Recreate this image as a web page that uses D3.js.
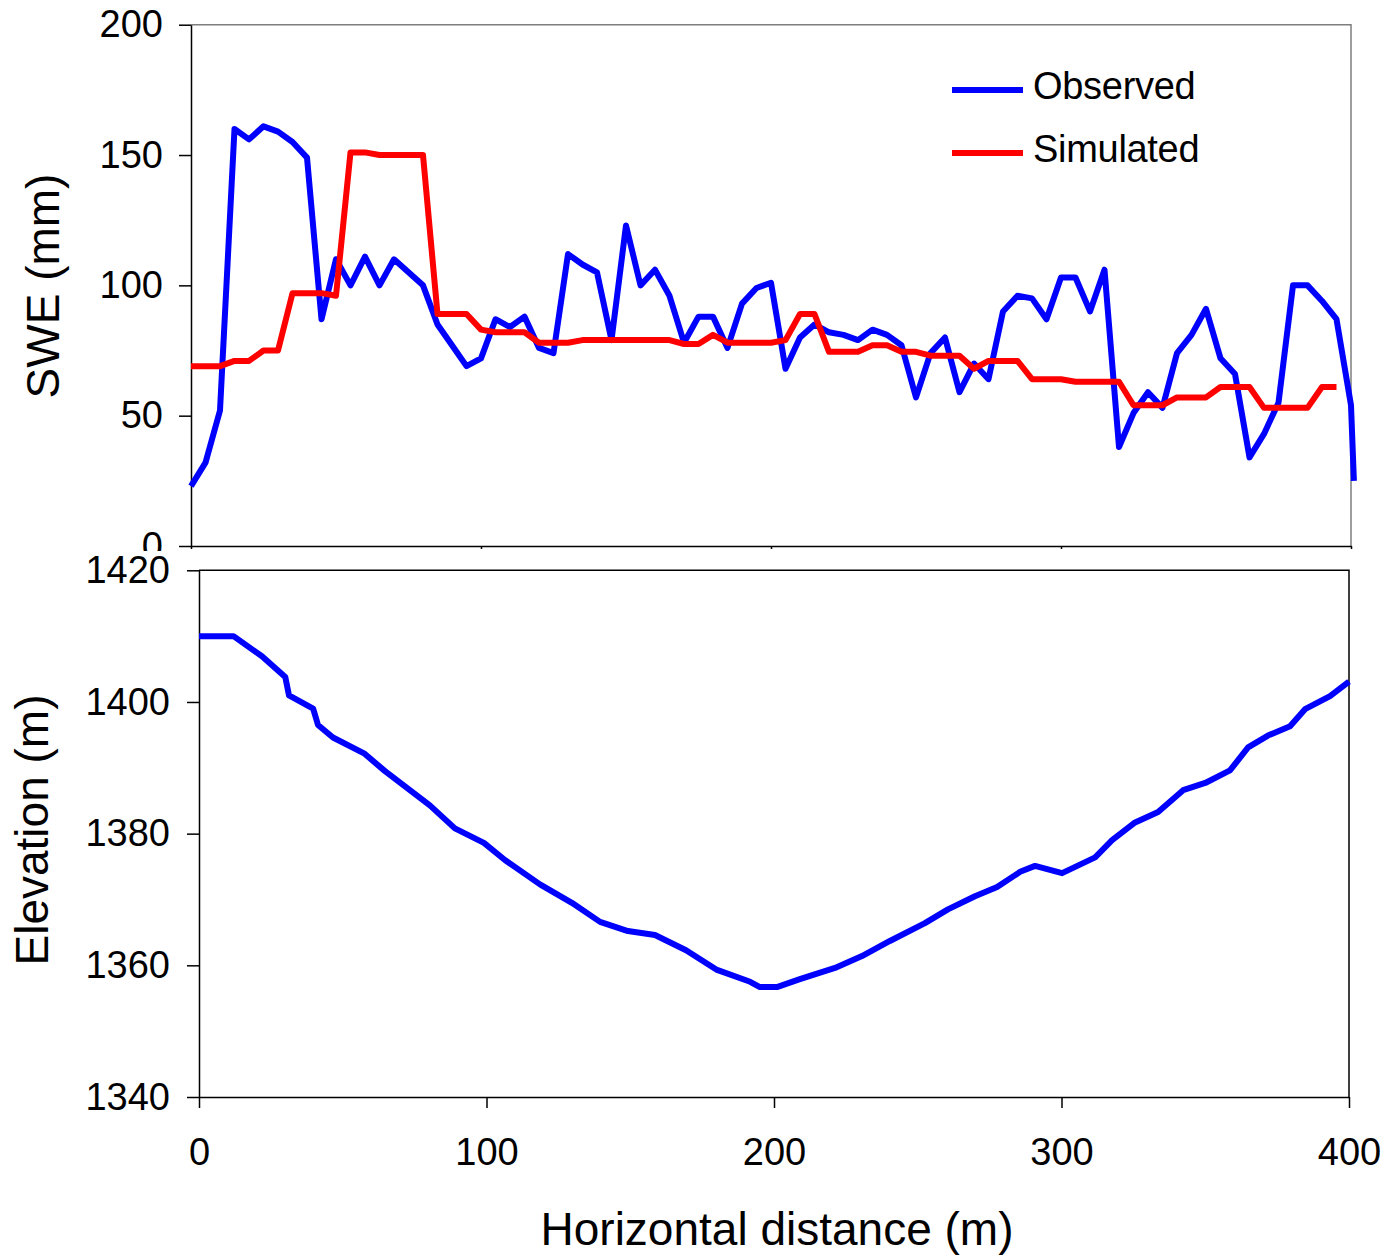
<!DOCTYPE html>
<html>
<head>
<meta charset="utf-8">
<script src="https://cdn.jsdelivr.net/npm/d3@7"></script>
<style>
  body { margin: 0; background: #fff; }
  svg text { font-family: "Liberation Sans", Arial, sans-serif; fill: #000; }
</style>
</head>
<body>
<div id="chart"></div>
<script>
// distance along transect (m)
const distance = [0, 5, 10, 15, 20, 25, 30, 35, 40, 45, 50, 55, 60, 65, 70, 75, 80, 85, 90, 95,
  100, 105, 110, 115, 120, 125, 130, 135, 140, 145, 150, 155, 160, 165, 170, 175, 180, 185, 190, 195,
  200, 205, 210, 215, 220, 225, 230, 235, 240, 245, 250, 255, 260, 265, 270, 275, 280, 285, 290, 295,
  300, 305, 310, 315, 320, 325, 330, 335, 340, 345, 350, 355, 360, 365, 370, 375, 380, 385, 390, 395,
  400, 401];

const observedSWE = [23, 32, 52, 160, 156, 161, 159, 155, 149, 87, 110, 100, 111, 100, 110, 105, 100, 85, 77, 69,
  72, 87, 84, 88, 76, 74, 112, 108, 105, 79, 123, 100, 106, 96, 78, 88, 88, 76, 93, 99,
  101, 68, 80, 85, 82, 81, 79, 83, 81, 77, 57, 74, 80, 59, 70, 64, 90, 96, 95, 87,
  103, 103, 90, 106, 38, 51, 59, 53, 74, 81, 91, 72, 66, 34, 43, 55, 100, 100, 94, 87,
  54, 25];

const simulatedSWE = [69, 69, 69, 71, 71, 75, 75, 97, 97, 97, 96, 151, 151, 150, 150, 150, 150, 89, 89, 89,
  83, 82, 82, 82, 78, 78, 78, 79, 79, 79, 79, 79, 79, 79, 77.5, 77.5, 81, 78, 78, 78,
  78, 79, 89, 89, 74.5, 74.5, 74.5, 77, 77, 74.5, 74.5, 73, 73, 73, 68, 71, 71, 71, 64, 64,
  64, 63, 63, 63, 63, 54, 54, 54, 57, 57, 57, 61, 61, 61, 53, 53, 53, 53, 61, 61];

// ground profile
const elevDistance = [0, 12, 22, 30, 31.3, 39.7, 41.4, 46.6, 57.4, 64.7, 80.3, 89, 99.1, 106.4, 118.6, 129.7,
  139.5, 149.2, 158.6, 169.4, 180.2, 191.7, 195.1, 201, 209, 221.2, 230.6, 240.3, 252.5, 260.5,
  269.9, 277.6, 285.6, 290.8, 300.2, 311.7, 317.6, 325.6, 333.6, 342.3, 350, 358.6, 364.9, 371.8,
  379.5, 384.7, 393.4, 400];
const elevation = [1410, 1410, 1406.9, 1403.8, 1401, 1399, 1396.5, 1394.6, 1392.2, 1389.5, 1384.3, 1380.8,
  1378.6, 1376, 1372.3, 1369.5, 1366.6, 1365.2, 1364.6, 1362.3, 1359.3, 1357.5, 1356.7, 1356.7,
  1357.9, 1359.6, 1361.4, 1363.7, 1366.4, 1368.5, 1370.5, 1371.9, 1374.2, 1375.1, 1374, 1376.4,
  1379, 1381.7, 1383.3, 1386.6, 1387.7, 1389.6, 1393.1, 1394.9, 1396.3, 1398.9, 1400.9, 1403.1];

const xTicks = [0, 100, 200, 300, 400];
const sweTicks = [0, 50, 100, 150, 200];
const elevTicks = [1340, 1360, 1380, 1400, 1420];

const W = 1388, H = 1255;
const svg = d3.select("#chart").append("svg").attr("width", W).attr("height", H);

// ---- top panel: SWE ----
const topBox = { left: 191, right: 1351, top: 24.7, bottom: 546 };
const xTop = d3.scaleLinear().domain([0, 400]).range([topBox.left, topBox.right]);
const ySwe = d3.scaleLinear().domain([0, 200]).range([topBox.bottom, topBox.top]);

const gTop = svg.append("g");

// frame top/right in grey
gTop.append("path")
  .attr("d", `M${topBox.left},${topBox.top}H${topBox.right}V${topBox.bottom}`)
  .attr("fill", "none").attr("stroke", "#7f7f7f").attr("stroke-width", 1.5);

gTop.append("g")
  .attr("transform", `translate(${topBox.left},0)`)
  .call(d3.axisLeft(ySwe).tickValues(sweTicks).tickSize(12).tickPadding(16).tickSizeOuter(0))
  .call(g => g.selectAll("text").style("font-size", "38px"));

gTop.append("g")
  .attr("transform", `translate(0,${topBox.bottom})`)
  .call(d3.axisBottom(xTop).tickValues(xTicks).tickSize(3).tickFormat("").tickSizeOuter(0));

gTop.selectAll(".domain, .tick line").attr("stroke", "#000").attr("stroke-width", 1.5);

const lineTop = (vals) => d3.line()
  .x((d, i) => xTop(distance[i]))
  .y(d => ySwe(d))(vals);

gTop.append("path")
  .attr("d", lineTop(observedSWE))
  .attr("fill", "none").attr("stroke", "#0000ff").attr("stroke-width", 6)
  .attr("stroke-linejoin", "round");

gTop.append("path")
  .attr("d", lineTop(simulatedSWE))
  .attr("fill", "none").attr("stroke", "#ff0000").attr("stroke-width", 6)
  .attr("stroke-linejoin", "round");

// legend
const legend = [
  { name: "Observed", color: "#0000ff" },
  { name: "Simulated", color: "#ff0000" }
];
const lg = gTop.append("g").selectAll("g").data(legend).enter().append("g")
  .attr("transform", (d, i) => `translate(952,${90 + i * 63})`);
lg.append("line").attr("x1", 0).attr("x2", 71)
  .attr("stroke", d => d.color).attr("stroke-width", 6);
lg.append("text").attr("x", 81).attr("y", 9)
  .style("font-size", "38px").style("letter-spacing", "-0.3px")
  .text(d => d.name);

svg.append("text")
  .attr("transform", "translate(59,286) rotate(-90)")
  .attr("text-anchor", "middle")
  .style("font-size", "46px")
  .text("SWE (mm)");

// ---- bottom panel: elevation ----
const botBox = { left: 199, right: 1349, top: 570.3, bottom: 1097 };
const xBot = d3.scaleLinear().domain([0, 400]).range([botBox.left, botBox.right]);
const yElev = d3.scaleLinear().domain([1340, 1420]).range([botBox.bottom, botBox.top]);

const gBot = svg.append("g");
// chart area of the lower plot sits over the top panel's clipped "0"
gBot.append("rect").attr("x", 0).attr("y", 551).attr("width", W).attr("height", H - 551).attr("fill", "#fff");

gBot.append("path")
  .attr("d", `M${botBox.left},${botBox.top}H${botBox.right}V${botBox.bottom}`)
  .attr("fill", "none").attr("stroke", "#000").attr("stroke-width", 1.5);

gBot.append("g")
  .attr("transform", `translate(${botBox.left},0)`)
  .call(d3.axisLeft(yElev).tickValues(elevTicks).tickFormat(d3.format("d"))
    .tickSize(12).tickPadding(17).tickSizeOuter(0))
  .call(g => g.selectAll("text").style("font-size", "38px"));

gBot.append("g")
  .attr("transform", `translate(0,${botBox.bottom})`)
  .call(d3.axisBottom(xBot).tickValues(xTicks).tickSize(11).tickPadding(30).tickSizeOuter(0))
  .call(g => g.selectAll("text").style("font-size", "38px"));

gBot.selectAll(".domain, .tick line").attr("stroke", "#000").attr("stroke-width", 1.5);

gBot.append("path")
  .attr("d", d3.line().x((d, i) => xBot(elevDistance[i])).y(d => yElev(d))(elevation))
  .attr("fill", "none").attr("stroke", "#0000ff").attr("stroke-width", 6)
  .attr("stroke-linejoin", "round");

svg.append("text")
  .attr("transform", "translate(48,830) rotate(-90)")
  .attr("text-anchor", "middle")
  .style("font-size", "46px")
  .text("Elevation (m)");

svg.append("text")
  .attr("x", 777).attr("y", 1245)
  .attr("text-anchor", "middle")
  .style("font-size", "46px")
  .text("Horizontal distance (m)");
</script>
</body>
</html>
